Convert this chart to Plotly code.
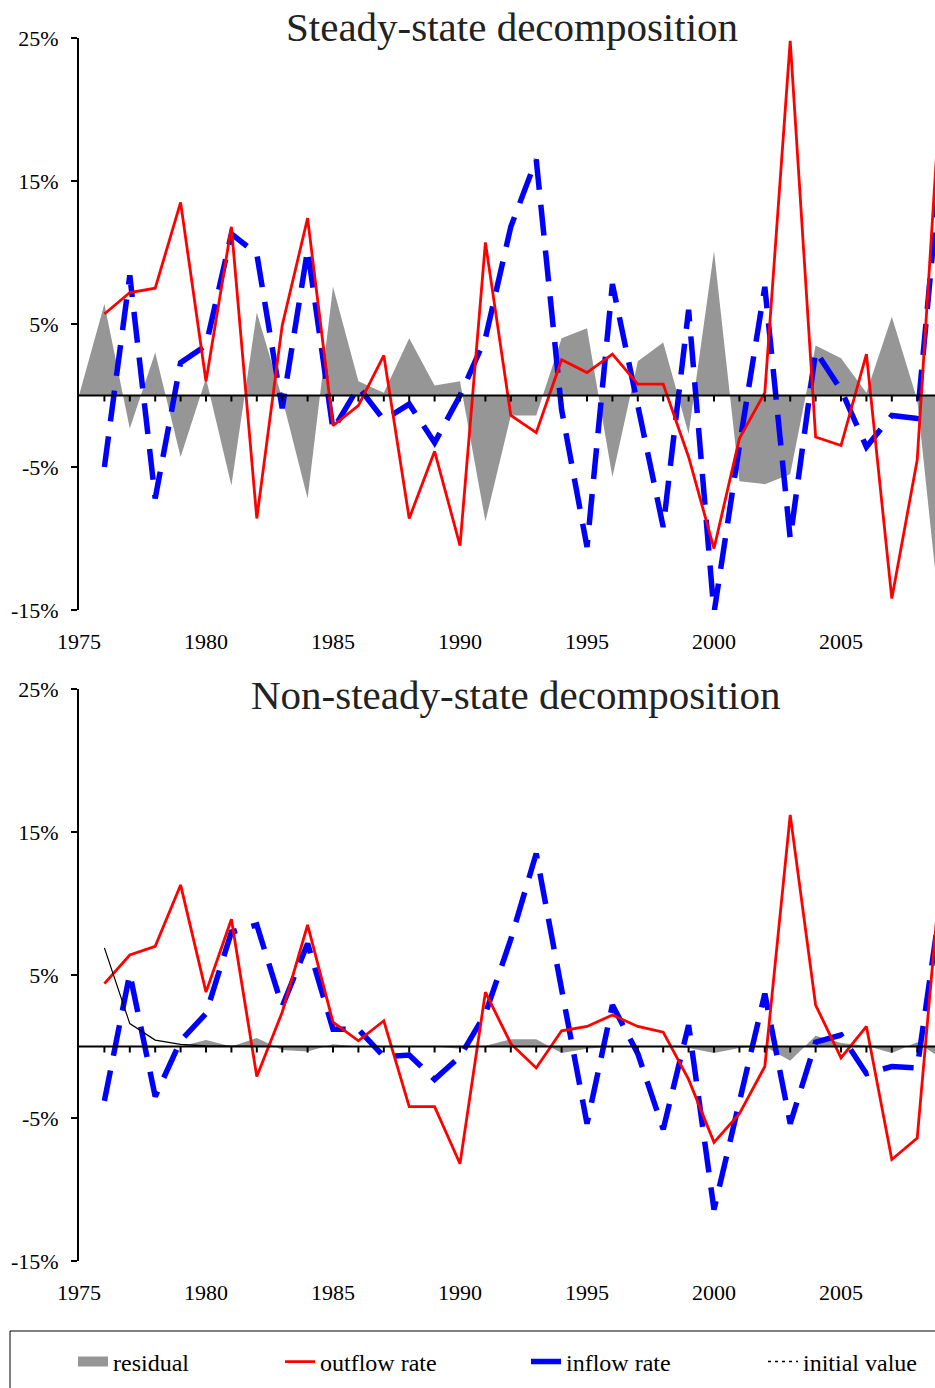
import plotly.graph_objects as go

# ---------------- data ----------------
years = list(range(1976, 2010))
res_years = list(range(1975, 2010))

# Steady-state decomposition (percent)
outflow_ss = [5.7, 7.2, 7.5, 13.5, 1.0, 11.8, -8.6, 4.9, 12.4, -2.1,
              -0.7, 2.8, -8.6, -3.9, -10.5, 10.7, -1.4, -2.6, 2.5, 1.6,
              2.9, 0.8, 0.8, -4.3, -10.7, -3.0, 0.2, 24.8, -2.9, -3.5,
              2.9, -14.2, -4.5, 23.5]
inflow_ss = [-5.0, 8.4, -7.2, 2.3, 3.5, 11.3, 9.9, -0.9, 10.2, -2.4,
             0.6, -1.7, -0.6, -3.3, 0.0, 4.0, 11.8, 16.5, -1.0, -10.6,
             7.8, -0.8, -9.2, 6.0, -15.2, -3.5, 7.6, -10.0, 3.1, 0.4,
             -3.6, -1.4, -1.6, 17.7]
residual_ss = [0.0, 6.4, -2.3, 3.0, -4.3, 1.2, -6.3, 5.8, -0.2, -7.2,
               7.6, 1.0, 0.2, 4.0, 0.7, 1.0, -8.8, -1.4, -1.4, 4.0,
               4.7, -5.7, 2.4, 3.7, -2.7, 10.1, -6.0, -6.2, -5.5, 3.5,
               2.6, 0.2, 5.5, -0.3, -17.2]

# Non-steady-state decomposition (percent)
outflow_ns = [4.4, 6.4, 7.0, 11.3, 3.8, 8.9, -2.1, 2.4, 8.5, 1.7,
              0.4, 1.8, -4.2, -4.2, -8.2, 3.8, 0.2, -1.5, 1.1, 1.4,
              2.2, 1.4, 1.0, -2.3, -6.7, -4.7, -1.4, 16.2, 2.9, -0.8,
              1.4, -7.9, -6.4, 13.7]
inflow_ns = [-3.8, 5.1, -3.5, 0.4, 2.3, 8.0, 8.5, 2.8, 7.2, 1.2,
             1.2, -0.7, -0.6, -2.3, -0.7, 2.3, 7.5, 13.5, 4.0, -5.4,
             2.9, -0.5, -5.8, 1.5, -11.4, -3.8, 3.7, -5.4, 0.3, 0.8,
             -1.9, -1.4, -1.5, 11.0]
residual_ns = [0.0, 0.0, 0.0, -0.1, 0.0, 0.45, 0.0, 0.6, -0.25, -0.35,
               0.15, 0.0, 0.0, 0.0, 0.0, -0.15, 0.05, 0.5, 0.5, -0.45,
               -0.15, 0.0, 0.0, 0.0, -0.1, -0.45, -0.1, 0.0, -1.0, 0.75,
               0.25, 0.05, -0.45, 0.3, -0.9]
initial_ns = [6.9, 1.6, 0.45, 0.15, 0.05, 0.02, 0.0, 0.0, 0.0, 0.0,
              0.0, 0.0, 0.0, 0.0, 0.0, 0.0, 0.0, 0.0, 0.0, 0.0,
              0.0, 0.0, 0.0, 0.0, 0.0, 0.0, 0.0, 0.0, 0.0, 0.0,
              0.0, 0.0, 0.0, 0.0]

y_tickvals = [25, 15, 5, -5, -15]
y_ticktext = ["25%", "15%", "5%", "-5%", "-15%"]
x_tickvals = [1975, 1980, 1985, 1990, 1995, 2000, 2005]
x_ticktext = ["1975", "1980", "1985", "1990", "1995", "2000", "2005"]
titles = ["Steady-state decomposition", "Non-steady-state decomposition"]
legend_names = ["residual", "outflow rate", "inflow rate", "initial value"]

# ---------------- style ----------------
FONT = "Liberation Serif"
X_RANGE = [1975, 2008.7]
Y_RANGE = [-15, 25]
GREY = "rgb(150,150,150)"
RED = "rgb(255,0,0)"
BLUE = "rgb(0,0,255)"
W, H = 935, 1388
ML, MR, MT, MB = 79, 0, 38, 127
PW, PH = W - ML - MR, H - MT - MB


def px_x(px):
    return (px - ML) / PW


def px_y(py):
    return (H - MB - py) / PH


fig = go.Figure()

panels = [
    ("x", "y", residual_ss, outflow_ss, inflow_ss, None, False),
    ("x2", "y2", residual_ns, outflow_ns, inflow_ns, initial_ns, True),
]

for xa, ya, res, out, inf, init, show in panels:
    fig.add_trace(go.Scatter(
        x=res_years, y=res, mode="lines", fill="tozeroy",
        fillcolor=GREY, line=dict(width=0, color=GREY),
        name=legend_names[0], showlegend=False,
        xaxis=xa, yaxis=ya, hoverinfo="skip"))
    fig.add_trace(go.Scatter(
        x=years, y=inf, mode="lines",
        line=dict(color=BLUE, width=5.5, dash="31px,15px"),
        name=legend_names[2], showlegend=show, legend="legend3",
        xaxis=xa, yaxis=ya))
    fig.add_trace(go.Scatter(
        x=years, y=out, mode="lines",
        line=dict(color=RED, width=2.8),
        name=legend_names[1], showlegend=show, legend="legend2",
        xaxis=xa, yaxis=ya))
    if init is not None:
        fig.add_trace(go.Scatter(
            x=years, y=init, mode="lines",
            line=dict(color="black", width=1.2),
            name=legend_names[3], showlegend=False,
            xaxis=xa, yaxis=ya))

# legend proxies (symbols styled as in the original legend)
fig.add_trace(go.Scatter(
    x=[None], y=[None], mode="lines", line=dict(color=GREY, width=15),
    name=legend_names[0], showlegend=True, legend="legend",
    xaxis="x2", yaxis="y2"))
fig.add_trace(go.Scatter(
    x=[None], y=[None], mode="lines",
    line=dict(color="black", width=1.5, dash="3px,4px"),
    name=legend_names[3], showlegend=True, legend="legend4",
    xaxis="x2", yaxis="y2"))

axis_font = dict(family=FONT, size=22, color="black")
common_x = dict(range=X_RANGE, showgrid=False, zeroline=False, showline=False,
                tickmode="array", tickvals=x_tickvals, ticktext=x_ticktext,
                ticks="", tickfont=axis_font, ticklabelstandoff=16,
                fixedrange=True)
common_y = dict(range=Y_RANGE, showgrid=False, zeroline=False, showline=True,
                linecolor="black", linewidth=2, tickmode="array",
                tickvals=y_tickvals, ticktext=y_ticktext, ticks="outside",
                ticklen=6, tickwidth=2, tickcolor="black", tickfont=axis_font,
                ticklabelstandoff=8, fixedrange=True)

top_dom = [px_y(610), 1.0]
bot_dom = [0.0, px_y(689)]

fig.update_layout(
    width=W, height=H,
    margin=dict(l=ML, r=MR, t=MT, b=MB, pad=0),
    paper_bgcolor="white", plot_bgcolor="white",
    font=dict(family=FONT, color="black"),
    hovermode=False,
    xaxis=dict(domain=[0, 1], anchor="y", **common_x),
    yaxis=dict(domain=top_dom, anchor="x", **common_y),
    xaxis2=dict(domain=[0, 1], anchor="y2", **common_x),
    yaxis2=dict(domain=bot_dom, anchor="x2", **common_y),
)

# zero lines and small year ticks on them
shapes = []
for xr, yr in [("x", "y"), ("x2", "y2")]:
    shapes.append(dict(type="line", xref=xr, yref=yr, x0=X_RANGE[0], x1=X_RANGE[1],
                       y0=0, y1=0, line=dict(color="black", width=2), layer="above"))
    for t in years:
        if t <= X_RANGE[1]:
            shapes.append(dict(type="line", xref=xr, yref=yr, x0=t, x1=t,
                               ysizemode="pixel", yanchor=0, y0=0, y1=-6,
                               line=dict(color="black", width=2), layer="above"))
# legend frame
shapes.append(dict(type="rect", xref="paper", yref="paper",
                   x0=px_x(10), x1=px_x(1000), y0=px_y(1331), y1=px_y(1450),
                   line=dict(color="black", width=1), fillcolor="rgba(0,0,0,0)"))
fig.update_layout(shapes=shapes)

# titles
fig.add_annotation(text=titles[0], xref="paper", yref="paper",
                   x=px_x(512), y=px_y(27), xanchor="center", yanchor="middle",
                   showarrow=False, font=dict(family=FONT, size=41, color="#222"))
fig.add_annotation(text=titles[1], xref="paper", yref="paper",
                   x=px_x(515), y=px_y(695), xanchor="center", yanchor="middle",
                   showarrow=False, font=dict(family=FONT, size=41, color="#222"))

# legends (one per entry, placed like the original)
leg_font = dict(family=FONT, size=24, color="black")
text_starts = [113, 320, 566, 803]
for name, ts in zip(["legend", "legend2", "legend3", "legend4"], text_starts):
    fig.update_layout({name: dict(
        x=px_x(ts - 40), y=px_y(1362), xanchor="left", yanchor="middle",
        orientation="h", font=leg_font, bgcolor="rgba(0,0,0,0)",
        borderwidth=0, itemwidth=30, itemclick=False, itemdoubleclick=False)})

fig.write_html(
    "out.html",
    config={"displayModeBar": False, "staticPlot": False},
    post_script="document.body.style.margin='0px';"
                "document.body.style.overflow='hidden';")
